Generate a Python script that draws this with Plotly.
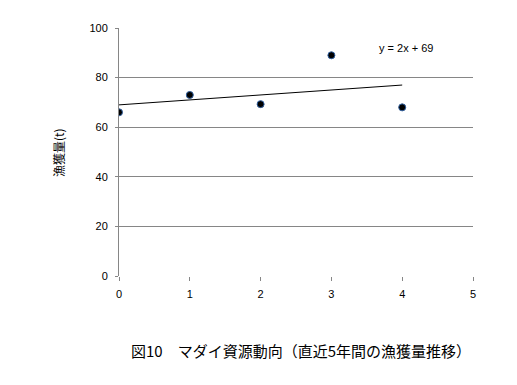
import plotly.graph_objects as go

years = [0, 1, 2, 3, 4]
catch = [66, 73, 69.3, 89, 68]
trend_x = [0, 4]
slope = 2
intercept = 69
trend_y = [intercept + slope * x for x in trend_x]
y_ticks = [0, 20, 40, 60, 80, 100]
x_ticks = [0, 1, 2, 3, 4, 5]

num_font = "Liberation Sans, Arial, sans-serif"
jp_font = "Noto Sans CJK JP, sans-serif"

W, H = 517, 385
L, R, T, B = 119, 44, 28, 109
pw = W - L - R
ph = H - T - B


def px(x):
    return (x - L) / pw


def py(y):
    return (H - B - y) / ph


fig = go.Figure()
fig.add_trace(go.Scatter(x=trend_x, y=trend_y, mode="lines",
                         line=dict(color="black", width=1), hoverinfo="skip"))
fig.add_trace(go.Scatter(x=years, y=catch, mode="markers",
                         marker=dict(color="black", size=7,
                                     line=dict(color="#2f5f9f", width=1))))

fig.update_layout(
    width=W, height=H,
    margin=dict(l=L, r=R, t=T, b=B, autoexpand=False),
    plot_bgcolor="white", paper_bgcolor="white",
    showlegend=False,
    xaxis=dict(range=[0, 5], tickvals=x_ticks, showgrid=False, zeroline=False,
               showline=False, ticks="outside", ticklen=4, tickcolor="#868686",
               ticklabelstandoff=4,
               tickfont=dict(family=num_font, size=11, color="black")),
    yaxis=dict(range=[0, 100], tickvals=y_ticks, showgrid=True, gridcolor="#868686",
               gridwidth=1, zeroline=False, showline=True, linecolor="#868686",
               ticks="outside", ticklen=3, tickcolor="#868686",
               ticklabelstandoff=5,
               tickfont=dict(family=num_font, size=11, color="black")),
    annotations=[
        dict(x=3.64, y=92, xref="x", yref="y", text="y = 2x + 69", showarrow=False,
             xanchor="left", yanchor="middle",
             font=dict(family=num_font, size=11, color="black")),
        dict(x=px(58), y=py(153), xref="paper", yref="paper", text="漁獲量(t)",
             showarrow=False, textangle=-90, xanchor="center", yanchor="middle",
             font=dict(family=jp_font, size=12, color="black")),
        dict(x=px(301), y=py(350), xref="paper", yref="paper",
             text="図10　マダイ資源動向（直近5年間の漁獲量推移）",
             showarrow=False, xanchor="center", yanchor="middle",
             font=dict(family=jp_font, size=15, color="black")),
    ],
)

fig.write_html("out.html", config={"displayModeBar": False},
               post_script="document.body.style.margin='0';document.body.style.padding='0';")
